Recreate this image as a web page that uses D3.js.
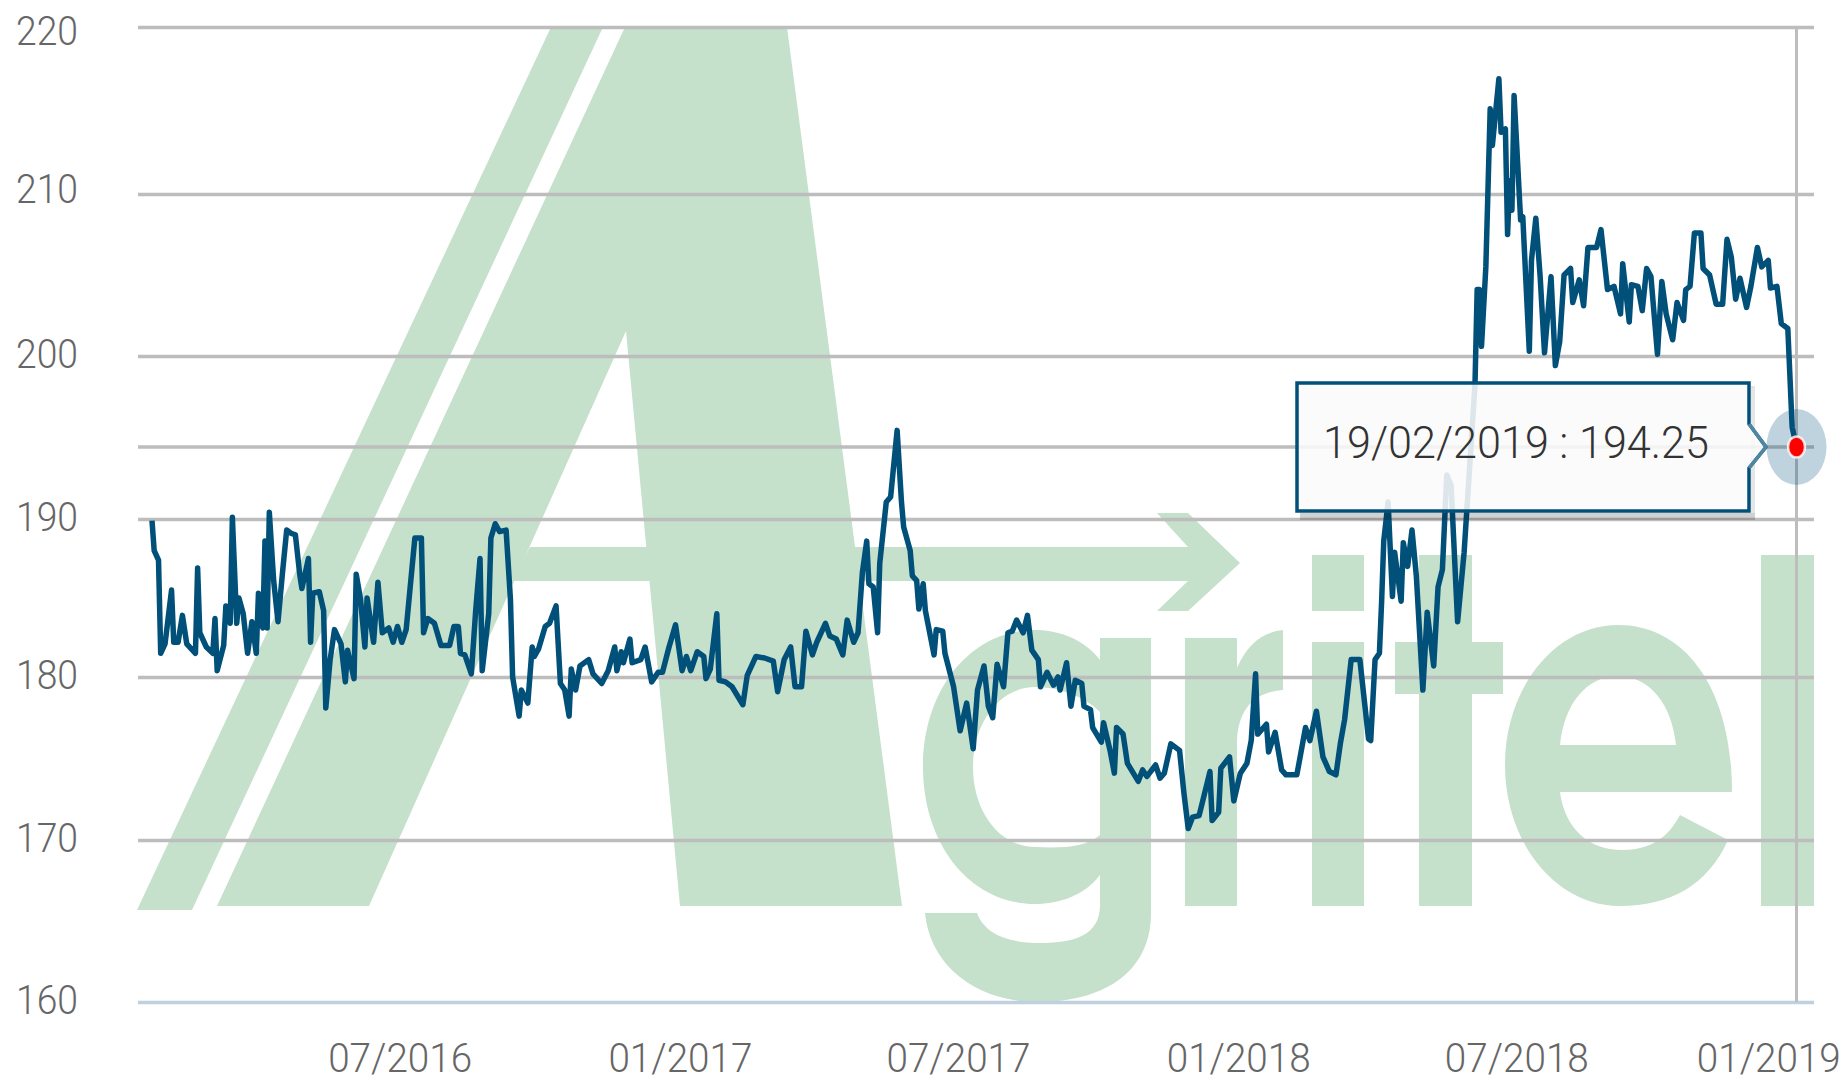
<!DOCTYPE html>
<html><head><meta charset="utf-8">
<style>html,body{margin:0;background:#fff}svg{display:block}text{font-family:Roboto,"Open Sans",sans-serif;font-weight:300}</style>
<script src="https://cdn.jsdelivr.net/npm/d3@7/dist/d3.min.js"></script>
</head><body><svg id="c" width="1847" height="1083"></svg>
<script>
// session number (trading-day index from the first point) and price
const sessions=[0,1,3,4,6,9,10,12,14,16,20,21,22,25,28,29,30,33,34,36,37,39,40,42,44,46,48,49,51,52,53,54,56,58,60,62,64,66,68,69,72,73,74,77,79,80,82,84,87,89,90,93,94,96,98,99,102,104,106,109,111,113,115,117,121,124,125,
127,130,133,137,139,141,142,144,147,149,151,152,155,156,158,160,163,165,166,169,170,173,175,176,178,181,183,186,188,190,192,193,195,197,201,203,207,210,213,214,216,217,220,221,225,227,230,233,235,238,241,244,246,248,251,
254,255,257,260,261,264,267,272,274,278,282,286,288,291,294,296,299,301,304,306,310,312,315,318,320,323,325,327,329,330,332,334,335,338,340,343,345,346,349,350,352,353,355,356,360,361,364,365,369,372,375,378,
380,383,385,387,389,392,394,396,398,401,403,405,408,409,412,415,417,418,421,423,425,428,429,432,433,437,438,441,443,444,447,449,454,456,458,462,464,466,469,473,475,477,479,482,487,488,491,492,496,498,501,504,506,
508,509,513,514,517,520,522,527,531,533,536,539,542,545,547,549,552,556,560,561,563,565,566,567,569,571,572,575,576,578,580,582,585,587,590,592,594,596,598,601,604,
609,610,611,612,614,616,617,620,621,623,624,625,626,627,630,631,634,635,637,639,641,644,646,648,650,653,654,657,659,661,665,667,670,673,676,677,680,
681,684,686,688,690,693,695,697,700,702,705,706,708,710,713,714,717,720,723,725,727,729,731,734,736,739,741,744,745,748,750,753,755,757];
const prices=[189.9,188.0,187.4,181.5,182.1,185.5,182.2,182.2,183.9,182.1,181.5,186.9,182.8,181.9,181.5,183.7,180.4,182.0,184.5,183.4,190.1,183.4,185.0,184.0,181.5,183.5,181.5,185.3,183.1,188.6,183.1,190.4,186.1,183.5,186.5,189.3,189.1,189.0,186.5,185.6,187.5,182.2,185.3,185.4,184.2,178.1,181.1,183.0,182.1,179.7,181.7,179.9,186.5,184.9,181.9,185.0,182.2,186.0,182.8,183.1,182.2,183.2,182.2,183.0,188.8,188.8,182.8,
183.7,183.4,182.0,182.0,183.2,183.2,181.5,181.4,180.2,184.2,187.5,180.4,184.0,188.8,189.7,189.2,189.3,184.9,180.0,177.6,179.2,178.4,181.9,181.3,181.8,183.2,183.4,184.5,179.6,179.2,177.6,180.5,179.2,180.7,181.1,180.2,179.6,180.4,181.9,180.4,181.6,180.9,182.4,180.9,181.1,181.9,179.7,180.3,180.3,181.9,183.3,180.4,181.3,180.4,181.6,
181.3,179.9,180.5,184.0,179.8,179.7,179.4,178.3,180.1,181.3,181.2,181.0,179.1,181.1,181.9,179.4,179.4,182.9,181.4,182.2,183.4,182.6,182.4,181.4,183.6,182.2,182.8,186.6,188.6,185.9,185.7,182.8,187.2,191.0,191.3,195.3,191.0,189.5,188.0,186.4,186.1,184.3,185.9,184.2,181.4,183.0,182.9,181.5,179.4,176.7,178.4,175.6,
179.2,180.7,178.2,177.5,180.8,179.4,182.8,182.9,183.6,182.8,183.9,181.7,181.1,179.4,180.3,179.5,180.0,179.2,180.9,178.2,179.8,179.6,178.2,178.0,176.9,176.0,177.2,175.5,174.1,176.9,176.5,174.7,173.6,174.3,173.9,174.6,173.8,174.1,175.9,175.5,172.9,170.7,171.4,171.5,174.2,171.2,171.7,174.4,175.1,172.4,174.1,174.7,176.1,
180.2,176.5,177.1,175.4,176.6,174.3,174.0,174.0,176.9,176.1,177.9,175.1,174.2,174.0,175.9,177.4,181.1,181.1,176.2,176.1,181.1,181.5,184.7,188.6,191.0,185.1,187.9,184.8,188.5,187.0,189.3,186.4,179.2,184.1,180.7,185.7,186.8,192.6,192.0,183.5,187.9,
198.2,204.1,204.1,200.6,205.5,215.1,212.9,216.9,213.7,213.9,207.5,210.8,209.0,215.9,208.4,208.6,200.3,205.9,208.5,204.9,200.2,204.9,199.4,200.9,205.0,205.4,203.3,204.7,203.1,206.7,206.7,207.8,204.1,204.3,202.6,205.7,202.1,
204.4,204.3,202.8,205.4,204.9,200.1,204.6,202.6,201.0,203.3,202.2,204.1,204.3,207.6,207.6,205.4,205.0,203.2,203.2,207.2,206.1,203.5,204.8,203.0,204.3,206.7,205.5,205.9,204.2,204.3,202.0,201.7,195.5,194.25];
const yTicks=[160,170,180,190,200,210,220];
const xTickSessions=[114,243,371,500,628,744];
const xTickLabels=["07/2016","01/2017","07/2017","01/2018","07/2018","01/2019"];
const lastDate="19/02/2019";

const svg=d3.select("#c");
const navy="#00507a";
const last=prices[prices.length-1], lastSession=sessions[sessions.length-1];
const x=d3.scaleLinear().domain([0,lastSession]).range([152,1796.5]);
// the reference's gridlines are not perfectly even, so the scale follows each of them
const y=d3.scaleLinear().domain([160,170,180,190,last,200,210,220]).range([1002,840,677,519,447,356,194,27]);

// watermark logo
const wm=svg.append("g").attr("fill","#c5e0cb");
const logo=[
 "M551,27H603L192,910H137Z",
 "M625,27H787L902,906H680L626,331L369,906H217Z",
 "M530,547H1188L1157,513H1188L1240,563L1188,611H1157L1188,581H512Z",
 "M1100,638H1151V913C1151,975 1100,1002 1038,1002C975,1002 930,965 925,913H977C985,935 1010,943 1040,943C1075,943 1100,935 1100,905Z",
 "M1185,638H1237V668C1247,645 1262,632 1283,630V690C1255,692 1237,708 1237,745V906H1185Z",
 "M1312,555H1364V611H1312ZM1312,642H1364V906H1312Z",
 "M1419,555H1472V642H1503V694H1472V906H1419V694H1395V642H1419Z",
 "M1761,555H1814V906H1761Z"];
logo.forEach(d=>wm.append("path").attr("d",d));
wm.append("path").attr("fill-rule","evenodd").attr("d",
 "M1100,660C1085,640 1060,630 1035,630C970,630 923,690 923,767C923,844 970,904 1035,904C1060,904 1085,895 1100,875V835C1085,848 1060,848 1035,847C1000,847 973,812 973,767C973,722 1000,687 1035,687C1060,687 1085,697 1100,712Z");
wm.append("path").attr("fill-rule","evenodd").attr("d",
 "M1505,765C1505,688 1555,625 1618,625C1685,625 1732,688 1732,792H1560C1565,830 1590,850 1622,850C1650,850 1668,838 1680,815L1728,840C1708,885 1670,906 1620,906C1555,906 1505,842 1505,765ZM1560,745H1676C1672,705 1650,676 1618,676C1586,676 1564,705 1560,745Z");

// horizontal gridlines and y labels
const yG=svg.append("g").attr("transform","translate(138,0)")
 .call(d3.axisLeft(y).tickValues(yTicks).tickSize(-1676).tickPadding(60).tickFormat(d3.format("d")));
yG.select(".domain").remove();
yG.selectAll(".tick line").attr("stroke",d=>d===160?"#bfd0df":"#bdbdbd").attr("stroke-width",3.5);
yG.selectAll(".tick text").attr("fill","#666").attr("font-size",41)
 .attr("dy",d=>d===220?"0.43em":d===210?"0.2em":"0.28em")
 .attr("textLength",62).attr("lengthAdjust","spacingAndGlyphs");

// x labels
const xG=svg.append("g").attr("transform","translate(0,1002)")
 .call(d3.axisBottom(x).tickValues(xTickSessions).tickSize(0).tickPadding(57).tickFormat((d,i)=>xTickLabels[i]));
xG.select(".domain").remove();
xG.selectAll(".tick text").attr("fill","#666").attr("font-size",40).attr("dy","0.32em")
 .attr("textLength",144).attr("lengthAdjust","spacingAndGlyphs");

// crosshair on the last point
svg.append("line").attr("x1",x(lastSession)).attr("x2",x(lastSession)).attr("y1",y(220)).attr("y2",y(160))
 .attr("stroke","#bdbdbd").attr("stroke-width",3);
svg.append("line").attr("x1",138).attr("x2",1814).attr("y1",y(last)).attr("y2",y(last))
 .attr("stroke","#bdbdbd").attr("stroke-width",3.5);

// halo under the marker
svg.append("ellipse").attr("cx",x(lastSession)).attr("cy",y(last)).attr("rx",30).attr("ry",38)
 .attr("fill",navy).attr("fill-opacity",.25);

// price line
const line=d3.line().x((d,i)=>x(sessions[i])).y(d=>y(d));
svg.append("path").datum(prices).attr("d",line).attr("fill","none").attr("stroke",navy)
 .attr("stroke-width",5.5).attr("stroke-linejoin","round");

// marker
svg.append("ellipse").attr("cx",x(lastSession)).attr("cy",y(last)).attr("rx",8.5).attr("ry",10.5)
 .attr("fill","#f00").attr("stroke","#fff").attr("stroke-opacity",.8).attr("stroke-width",2.5);

// tooltip
const tipL=1297,tipR=1749,tipT=383,tipB=511,tipY=y(last);
svg.append("rect").attr("x",tipL+3).attr("y",tipB+2).attr("width",tipR-tipL+3).attr("height",7).attr("fill","#000").attr("fill-opacity",.18);
svg.append("rect").attr("x",tipR+2).attr("y",tipT+3).attr("width",4).attr("height",tipB-tipT-1).attr("fill","#000").attr("fill-opacity",.1);
svg.append("path").attr("d",`M${tipL},${tipT}H${tipR}V${tipY-23}L${tipR+17},${tipY}L${tipR},${tipY+21}V${tipB}H${tipL}Z`)
 .attr("fill","#fafafa").attr("fill-opacity",.88).attr("stroke",navy).attr("stroke-width",3.5);
svg.append("path").attr("d",`M${tipR},${tipY-23}L${tipR+17},${tipY}L${tipR},${tipY+21}`)
 .attr("fill","none").attr("stroke","#4f87a3").attr("stroke-width",3.5);
svg.append("text").attr("x",(tipL+tipR)/2-7).attr("y",tipY+11).attr("text-anchor","middle")
 .attr("fill","#333").attr("font-size",45).attr("textLength",386).attr("lengthAdjust","spacingAndGlyphs")
 .text(`${lastDate} : ${last.toFixed(2)}`);
</script></body></html>
